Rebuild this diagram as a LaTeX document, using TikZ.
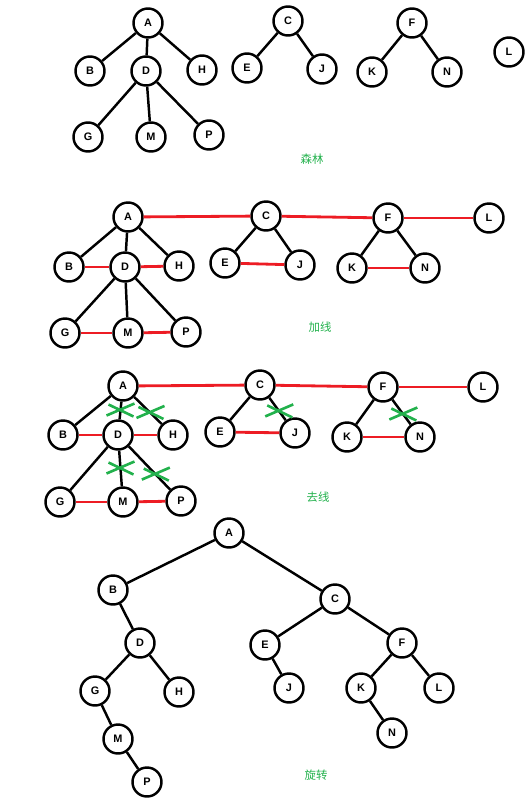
\documentclass[tikz,border=0pt]{standalone}
\usepackage{fontspec}
\setmainfont{Liberation Sans}
\newfontfamily\cjk{Noto Sans CJK SC}
\usetikzlibrary{calc}
\definecolor{cRed}{RGB}{237,28,36}
\definecolor{cGreen}{RGB}{34,177,76}

\begin{document}
\begin{tikzpicture}[
  x=0.02cm, y=-0.02cm,
  vnode/.style={
    draw=black, fill=white, circle, line width=1.4pt,
    minimum size=0.58cm, inner sep=0pt,
    font=\fontsize{6.2}{7}\selectfont\bfseries
  },
  tedge/.style={draw=black, line width=1.4pt},
  link/.style={draw=cRed, line width=1.6pt},
  cut/.style={draw=cGreen, line width=1.5pt},
  caption/.style={font=\cjk\fontsize{6.5}{7}\selectfont, text=cGreen}
]
\useasboundingbox (0,0) rectangle (526,809);

% Forest
\foreach \n/\x/\y in {A/148/23, B/90/71, D/146/71, H/202/70, G/88/137, M/151/137,
    P/209/135, C/288/21, E/247/68, J/322/69, F/412/23, K/372/72, N/447/72, L/509/52}
  \node[vnode] (f\n) at (\x,\y) {\n};
\foreach \u/\v in {A/B, A/D, A/H, D/G, D/M, D/P, C/E, C/J, F/K, F/N}
  \draw[tedge] (f\u) -- (f\v);
\node[caption] (capF) at (312,159) {森林};

% Add lines between siblings
\foreach \n/\x/\y in {A/128/217, B/69/267, D/125/267, H/179/266, G/65/333, M/128/333,
    P/186/332, C/266/216, E/225/263, J/300/265, F/388/218, K/352/268, N/425/268, L/489/218}
  \node[vnode] (a\n) at (\x,\y) {\n};
\foreach \u/\v in {A/B, A/D, A/H, D/G, D/M, D/P, C/E, C/J, F/K, F/N}
  \draw[tedge] (a\u) -- (a\v);
\foreach \u/\v in {A/C, C/F, F/L, B/D, D/H, G/M, M/P, E/J, K/N}
  \draw[link] (a\u) -- (a\v);
\node[caption] (capA) at (320,327) {加线};

% Remove lines to other children
\foreach \n/\x/\y in {A/123/386, B/63/435, D/118/435, H/173/435, G/60/502, M/123/502,
    P/181/501, C/260/385, E/220/432, J/295/433, F/383/387, K/347/437, N/420/437, L/483/387}
  \node[vnode] (d\n) at (\x,\y) {\n};
\foreach \u/\v in {A/B, A/D, A/H, D/G, D/M, D/P, C/E, C/J, F/K, F/N}
  \draw[tedge] (d\u) -- (d\v);
\foreach \u/\v in {A/C, C/F, F/L, B/D, D/H, G/M, M/P, E/J, K/N}
  \draw[link] (d\u) -- (d\v);
\foreach \u/\v/\t in {A/D/0.5, A/H/0.55, D/M/0.5, D/P/0.6, C/J/0.55, F/N/0.55}
  \draw[cut] ($(d\u)!\t!(d\v)$) +(-14,5) -- +(14,-7) +(-12,-6) -- +(13,6);
\node[caption] (capD) at (318,497) {去线};

% Rotate
\foreach \n/\x/\y in {A/229/533, B/113/590, C/335/599, D/140/643, E/265/645, F/402/643,
    G/95/691, H/179/692, J/289/688, K/361/688, L/439/688, M/118/739, N/392/733, P/147/782}
  \node[vnode] (r\n) at (\x,\y) {\n};
\foreach \u/\v in {A/B, A/C, B/D, D/G, D/H, G/M, M/P, C/E, C/F, E/J, F/K, F/L, K/N}
  \draw[tedge] (r\u) -- (r\v);
\node[caption] (capR) at (316,775) {旋转};

\end{tikzpicture}
\end{document}
